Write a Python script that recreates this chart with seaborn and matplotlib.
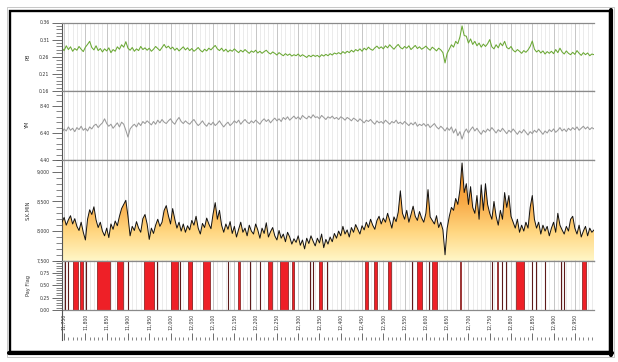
import numpy as np
import pandas as pd
import matplotlib
matplotlib.use("Agg")
import matplotlib.pyplot as plt
import seaborn as sns
from matplotlib.ticker import MultipleLocator, FixedLocator, FuncFormatter, NullFormatter
from matplotlib.colors import LinearSegmentedColormap
from matplotlib.patches import Rectangle
from matplotlib.lines import Line2D

# ---------------- data ----------------
x_values = list(range(11745, 13000, 5))

pb = [0.285, 0.278, 0.292, 0.281, 0.289, 0.276, 0.284, 0.279, 0.290, 0.282,
      0.275, 0.288, 0.296, 0.305, 0.287, 0.280, 0.292, 0.278, 0.284, 0.274,
      0.283, 0.277, 0.286, 0.272, 0.281, 0.276, 0.289, 0.282, 0.295, 0.288,
      0.304, 0.285, 0.279, 0.287, 0.276, 0.283, 0.278, 0.290, 0.281, 0.286,
      0.279, 0.285, 0.276, 0.282, 0.290, 0.284, 0.278, 0.287, 0.296, 0.286,
      0.291, 0.283, 0.288, 0.279, 0.285, 0.277, 0.283, 0.289, 0.280, 0.286,
      0.278, 0.284, 0.276, 0.281, 0.287, 0.279, 0.274, 0.282, 0.277, 0.285,
      0.280, 0.287, 0.293, 0.283, 0.278, 0.285, 0.276, 0.282, 0.274, 0.280,
      0.276, 0.283, 0.277, 0.272, 0.279, 0.274, 0.281, 0.275, 0.270, 0.277,
      0.273, 0.279, 0.271, 0.276, 0.270, 0.275, 0.279, 0.272, 0.268, 0.274,
      0.270, 0.265, 0.272, 0.267, 0.263, 0.269, 0.264, 0.268, 0.262, 0.266,
      0.263, 0.268, 0.261, 0.266, 0.262, 0.258, 0.264, 0.260, 0.265, 0.261,
      0.264, 0.259, 0.266, 0.262, 0.267, 0.263, 0.269, 0.265, 0.271, 0.268,
      0.272, 0.268, 0.275, 0.270, 0.276, 0.272, 0.279, 0.274, 0.281, 0.277,
      0.283, 0.276, 0.285, 0.280, 0.288, 0.282, 0.279, 0.286, 0.291, 0.284,
      0.289, 0.283, 0.292, 0.286, 0.295, 0.288, 0.282, 0.290, 0.296, 0.287,
      0.283, 0.290, 0.285, 0.292, 0.281, 0.287, 0.293, 0.284, 0.289, 0.282,
      0.286, 0.291, 0.284, 0.279, 0.288, 0.283, 0.277, 0.285, 0.280, 0.272,
      0.242, 0.270, 0.282, 0.295, 0.288, 0.305, 0.298, 0.318, 0.350, 0.322,
      0.320, 0.300, 0.312, 0.296, 0.305, 0.292, 0.300, 0.288, 0.297, 0.290,
      0.298, 0.310, 0.289, 0.283, 0.295, 0.286, 0.300, 0.292, 0.305, 0.287,
      0.283, 0.290, 0.279, 0.274, 0.281, 0.276, 0.270, 0.278, 0.273, 0.280,
      0.290, 0.306, 0.282, 0.274, 0.279, 0.271, 0.277, 0.268, 0.275, 0.270,
      0.276, 0.269, 0.281, 0.272, 0.285, 0.274, 0.268, 0.277, 0.270, 0.266,
      0.273, 0.267, 0.278, 0.270, 0.264, 0.272, 0.266, 0.271, 0.263, 0.268,
      0.266]

ym = [6.45, 6.70, 6.55, 6.85, 6.60, 6.75, 6.50, 6.80, 6.65, 6.90,
      6.60, 6.75, 6.55, 6.85, 6.70, 6.95, 7.05, 6.80, 7.00, 7.15,
      7.45, 7.10, 6.90, 7.05, 6.75, 6.95, 7.15, 6.85, 7.20, 7.05,
      6.60, 6.10, 6.70, 6.90, 7.05, 6.85, 7.15, 6.95, 7.25, 7.10,
      7.30, 7.15, 7.00, 7.25, 7.05, 7.35, 7.15, 7.40, 7.20, 7.10,
      7.30, 7.45, 7.20, 7.05, 7.35, 7.55, 7.25, 7.10, 7.30, 7.15,
      7.05, 7.25, 7.40, 7.15, 6.95, 7.10, 7.30, 7.05, 6.90, 7.15,
      7.00, 7.20, 6.95, 7.10, 7.30, 7.05, 6.85, 7.05, 7.20, 6.95,
      7.10, 7.30, 7.15, 7.35, 7.05, 7.25, 7.40, 7.20, 7.10, 7.30,
      7.15, 7.35, 7.20, 7.05, 7.30, 7.45, 7.25, 7.40, 7.15, 7.35,
      7.50, 7.30, 7.45, 7.25, 7.55, 7.40, 7.60, 7.35, 7.50, 7.65,
      7.45, 7.60, 7.40, 7.70, 7.55, 7.45, 7.65, 7.50, 7.75, 7.55,
      7.60, 7.45, 7.70, 7.55, 7.40, 7.60, 7.50, 7.65, 7.45, 7.55,
      7.40, 7.60, 7.50, 7.35, 7.55, 7.45, 7.30, 7.50, 7.40, 7.25,
      7.45, 7.30, 7.15, 7.35, 7.25, 7.40, 7.20, 7.05, 7.30, 7.15,
      7.25, 7.10, 7.35, 7.20, 7.05, 7.25, 7.15, 7.35, 7.10, 7.20,
      7.05, 7.25, 7.10, 6.95, 7.15, 7.00, 7.20, 6.90, 7.05, 6.95,
      7.10, 6.90, 7.05, 6.80, 6.95, 7.10, 6.85, 6.70, 6.90, 6.75,
      6.55, 6.80, 6.60, 6.85, 6.40, 6.70, 6.20, 6.50, 5.95, 6.45,
      6.70, 6.40, 6.65, 6.85, 6.55, 6.75, 6.50, 6.30, 6.60, 6.45,
      6.70, 6.55, 6.80, 6.60, 6.40, 6.65, 6.50, 6.75, 6.55, 6.35,
      6.60, 6.45, 6.70, 6.50, 6.30, 6.55, 6.40, 6.65, 6.45, 6.25,
      6.50, 6.35, 6.60, 6.45, 6.70, 6.50, 6.30, 6.55, 6.40, 6.65,
      6.50, 6.70, 6.45, 6.60, 6.80, 6.55, 6.70, 6.50, 6.75, 6.60,
      6.80, 6.65, 6.85, 6.60, 6.75, 6.90, 6.70, 6.85, 6.65, 6.80,
      6.70]

skmin = [8150, 8230, 8100, 8190, 8260, 8120, 8210, 8080, 8010, 8150,
         7980, 7850, 8200, 8360, 8280, 8410, 8190, 8060, 8150, 8000,
         7920, 8050, 7890, 8120, 8030, 8170, 8090, 8250, 8380, 8450,
         8520, 8250, 7920, 8080, 8010, 8160, 8050, 7980, 8210, 8280,
         8120, 7860, 8050, 7960, 8100, 8200, 8080, 8150, 8350, 8430,
         8260, 8120, 8380, 8200, 8050, 8150, 8000, 8120, 7980, 8090,
         8020, 8180, 8100, 8250, 8050, 7950, 8130, 8060, 8220, 8120,
         8040, 8290, 8480, 8200, 8350, 8100, 7980, 8120, 8030, 8160,
         7960, 8080, 7900, 8030, 8150, 7980, 8050, 7920, 8100, 8000,
         7950, 8120, 8020, 7880, 8050, 7960, 8140, 7900, 7990, 8060,
         7920, 7850, 8010, 7880, 7950, 7820, 7980, 7900, 7780, 7870,
         7810, 7920, 7760, 7850, 7700, 7880, 7790, 7920, 7830, 7750,
         7880, 7800, 7950, 7720, 7860, 7780, 7900, 7820, 7960, 7880,
         8000, 7920, 8080, 7950, 8020, 7900, 8060, 7980, 8110, 8030,
         7950, 8090, 8020, 8150, 8060, 8200, 8100, 8030, 8180, 8250,
         8120, 8220, 8150, 8300, 8180, 8050, 8240, 8160, 8320, 8680,
         8300, 8200, 8350, 8150, 8280, 8420, 8250, 8180, 8330, 8220,
         8150, 8300, 8700, 8240, 8180, 8120, 8260, 8060, 8150, 8020,
         7600, 8050, 8250, 8400, 8350, 8550, 8450, 8700, 9150, 8650,
         8800, 8450, 8750, 8400, 8300, 8600, 8200, 8780, 8350, 8800,
         8450, 8300, 8200, 8500, 8250, 8100, 8350, 8200, 8650, 8400,
         8600, 8250, 8150, 8050, 8200, 7980, 8100, 8000, 8150, 8050,
         8400, 8600, 8200, 8050, 8150, 7950, 8100, 8000, 8080, 7920,
         8050, 8150, 7980, 8300, 8100, 8020, 7950, 8080, 8000, 8200,
         8250, 8050, 7950, 8100, 7900, 8000, 8080, 7920, 8050, 7980,
         8020]

pay_start = [11771, 11788, 11827, 11874, 11938, 12000, 12041, 12076, 12158,
             12228, 12257, 12285, 12350, 12456, 12479, 12512, 12578, 12615,
             12679, 12767, 12812, 12967]
pay_end = [11783, 11795, 11858, 11888, 11960, 12017, 12050, 12092, 12163,
           12238, 12275, 12289, 12357, 12463, 12486, 12517, 12592, 12625,
           12682, 12770, 12831, 12976]
pay_marks = [11752, 11759, 11802, 11900, 11968, 12022, 12135, 12186, 12210,
             12327, 12334, 12367, 12568, 12608, 12756, 12780, 12789, 12850,
             12859, 12880, 12918, 12925]

x_ticks = list(range(11750, 13000, 50))
x_lim = (11745, 12995)

n = min(len(x_values), len(pb), len(ym), len(skmin))
df = pd.DataFrame({"x": x_values[:n], "PB": pb[:n], "YM": ym[:n], "SKMIN": skmin[:n]})

# ---------------- figure ----------------
sns.set_style("white")
plt.rcParams['font.family'] = ['DejaVu Sans']

W_PX, H_PX = 618, 362
fig = plt.figure(figsize=(W_PX / 100, H_PX / 100), dpi=100)
fig.patch.set_facecolor("white")

L = 62 / W_PX
WID = 532 / W_PX


def rect(top, bot):
    return [L, 1 - bot / H_PX, WID, (bot - top) / H_PX]


ax1 = fig.add_axes(rect(22.5, 91))
ax2 = fig.add_axes(rect(91, 160))
ax3 = fig.add_axes(rect(160, 260.7))
ax4 = fig.add_axes(rect(260.7, 310))
ax5 = fig.add_axes(rect(310, 340))

TICK_C = "#555555"
LAB_C = "#333333"
FS = 3.3


def style(ax, ylim, majors, minors, fmt):
    ax.set_facecolor("white")
    ax.set_xlim(*x_lim)
    ax.set_ylim(*ylim)
    ax.yaxis.set_major_locator(FixedLocator(majors))
    ax.yaxis.set_minor_locator(FixedLocator(minors))
    ax.yaxis.set_major_formatter(FuncFormatter(fmt))
    ax.xaxis.set_major_locator(MultipleLocator(50))
    ax.xaxis.set_minor_locator(MultipleLocator(10))
    ax.set_axisbelow(True)
    ax.grid(axis="x", which="major", color="#bdbdbd", lw=0.6)
    ax.grid(axis="x", which="minor", color="#e3e3e3", lw=0.5)
    ax.grid(axis="y", visible=False)
    ax.tick_params(axis="y", which="major", length=7, width=0.6, color=TICK_C,
                   labelsize=FS, labelcolor=LAB_C, pad=2, left=True)
    ax.tick_params(axis="y", which="minor", length=4.5, width=0.5, color=TICK_C, left=True)
    ax.tick_params(axis="x", which="both", length=0, labelbottom=False)
    ax.spines["left"].set_color(TICK_C)
    ax.spines["left"].set_linewidth(0.8)
    for s in ("top", "bottom"):
        ax.spines[s].set_color("#8a8a8a")
        ax.spines[s].set_linewidth(0.9)
    ax.spines["right"].set_visible(False)
    ax.set_xlabel("")
    ax.set_ylabel("")


# Panel 1: PB
sns.lineplot(data=df, x="x", y="PB", ax=ax1, color="#6aa834", lw=0.75)
style(ax1, (0.16, 0.36), [0.16, 0.21, 0.26, 0.31, 0.36],
      list(np.arange(0.16, 0.3601, 0.01)), lambda v, p: f"{v:.2f}")

# Panel 2: YM
sns.lineplot(data=df, x="x", y="YM", ax=ax2, color="#9a9a9a", lw=0.75)
style(ax2, (4.40, 9.51), [4.40, 6.40, 8.40],
      list(np.arange(4.40, 9.51, 0.40)), lambda v, p: f"{v:.2f}")

# Panel 3: S.K.MIN with gradient fill
poly = ax3.fill_between(df["x"], df["SKMIN"], 7500, color="none", lw=0)
cmap = LinearSegmentedColormap.from_list(
    "skfill", [(0.0, "#fff7c8"), (0.3, "#ffd57e"), (0.6, "#f8a844"), (1.0, "#ee8a20")])
grad = np.linspace(0, 1, 256).reshape(-1, 1)
im = ax3.imshow(grad, aspect="auto", cmap=cmap, origin="lower",
                extent=[x_lim[0], x_lim[1], 7500, 9200], zorder=1)
im.set_clip_path(poly.get_paths()[0], transform=ax3.transData)
sns.lineplot(data=df, x="x", y="SKMIN", ax=ax3, color="#111111", lw=0.7, zorder=3)
style(ax3, (7500, 9200), [7500, 8000, 8500, 9000],
      list(range(7500, 9201, 100)), lambda v, p: f"{int(round(v)):,}")

# Panel 4: Pay Flag
starts = np.array(pay_start)
widths = np.array(pay_end) - starts
ax4.bar(starts, 1.0, width=widths, align="edge", color="#ee2027",
        edgecolor="#7a1515", linewidth=0.5, zorder=2)
ax4.vlines(pay_marks, 0, 1, color="#5e1a1a", lw=0.8, zorder=2)
style(ax4, (0, 1), [0.0, 0.25, 0.50, 0.75],
      list(np.arange(0, 1.001, 0.05)), lambda v, p: f"{v:.2f}")
ax4.xaxis.set_major_locator(FixedLocator(x_ticks))
ax4.xaxis.set_major_formatter(FuncFormatter(lambda v, p: f"{int(round(v)):,}"))
ax4.tick_params(axis="x", which="major", length=0, labelbottom=True,
                labelrotation=90, labelsize=FS, labelcolor=LAB_C, pad=3)

# Ruler
ax5.set_xlim(*x_lim)
ax5.set_facecolor("none")
ax5.xaxis.set_major_locator(FixedLocator(x_ticks))
ax5.xaxis.set_minor_locator(MultipleLocator(10))
ax5.xaxis.set_major_formatter(NullFormatter())
ax5.tick_params(axis="x", which="major", direction="in", length=5, width=0.6,
                color=TICK_C, bottom=True, top=False, labelbottom=False)
ax5.tick_params(axis="x", which="minor", direction="in", length=2.5, width=0.5,
                color=TICK_C, bottom=True, top=False)
ax5.set_yticks([])
ax5.grid(False)
for s in ("top", "right", "bottom"):
    ax5.spines[s].set_visible(False)
ax5.spines["left"].set_color(TICK_C)
ax5.spines["left"].set_linewidth(0.8)

# Y labels
for name, top, bot in [("PB", 22.5, 91), ("YM", 91, 160),
                       ("S.K.MIN", 160, 260.7), ("Pay Flag", 260.7, 310)]:
    fig.text(28 / W_PX, 1 - (top + bot) / 2 / H_PX, name, rotation=90,
             ha="center", va="center", fontsize=3.6, color=LAB_C)

# Frame
fig.patches.append(Rectangle((7 / W_PX, 1 - 357 / H_PX), 607 / W_PX, 350 / H_PX,
                             transform=fig.transFigure, fill=False, ec="#b0b0b0", lw=0.5))
fig.patches.append(Rectangle((9.8 / W_PX, 1 - 352 / H_PX), 600 / W_PX, 341.5 / H_PX,
                             transform=fig.transFigure, fill=False, ec="black", lw=1.7))
fig.lines.append(Line2D([610.5 / W_PX] * 2, [1 - 354.5 / H_PX, 1 - 9.5 / H_PX],
                        transform=fig.transFigure, color="black", lw=3.0))
fig.lines.append(Line2D([9 / W_PX, 612 / W_PX], [1 - 353 / H_PX] * 2,
                        transform=fig.transFigure, color="black", lw=3.0))

fig.savefig("out.png", dpi=100, facecolor="white")
